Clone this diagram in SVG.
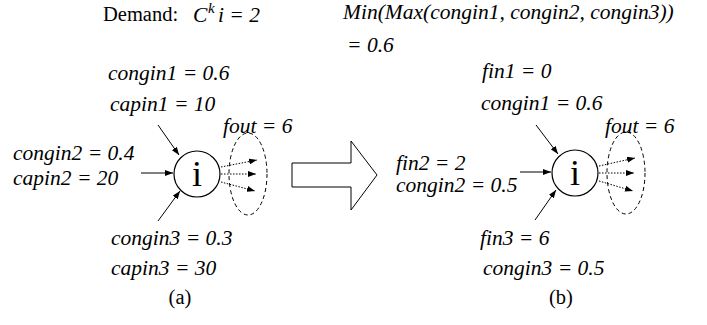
<svg xmlns="http://www.w3.org/2000/svg" width="707" height="325" viewBox="0 0 707 325" font-family="'Liberation Serif', 'Times New Roman', serif">
<style>
text{font-family:'Liberation Serif','Times New Roman',serif;fill:#000}
.it{font-style:italic;font-size:21.5px}
.up{font-size:20.5px}
.nd{fill:#fff;stroke:#000;stroke-width:1.2}
.ni{font-size:36px;text-anchor:middle}
.ln{stroke:#000;stroke-width:1;fill:none}
.dot{stroke:#000;stroke-width:1;fill:none;stroke-dasharray:1.5,1.5}
.dash{stroke:#000;stroke-width:1;fill:none;stroke-dasharray:4,3}
</style>
<defs>
<marker id="ah" markerUnits="userSpaceOnUse" markerWidth="9" markerHeight="6" refX="8" refY="3" orient="auto">
<path d="M0,0 L8,3 L0,6 z" fill="#000"/>
</marker>
</defs>
<rect width="707" height="325" fill="#fff"/>

<g id="labels-top">
<text class="up" x="103" y="21">Demand:</text>
<text class="it" x="193" y="22">C</text>
<text class="it" x="208" y="13" style="font-size:15px">k</text>
<text class="it" x="218" y="22">i = 2</text>
<text class="it" x="343" y="19">Min(Max(congin1, congin2, congin3))</text>
<text class="it" x="347" y="52">= 0.6</text>
</g>

<g id="node-a">
<circle class="nd" cx="197" cy="174" r="23"/>
<text class="ni" x="197" y="186">i</text>
</g>
<g id="fanout-a">
<ellipse class="dash" cx="248" cy="174" rx="19" ry="41"/>
</g>

<g id="node-b">
<circle class="nd" cx="575" cy="173" r="23"/>
<text class="ni" x="575" y="185">i</text>
</g>
<g id="fanout-b">
<ellipse class="dash" cx="626" cy="173" rx="19" ry="41"/>
</g>

<g id="connectors">
<line class="ln" x1="158" y1="125" x2="179" y2="155" marker-end="url(#ah)"/>
<line class="ln" x1="141" y1="173" x2="173" y2="173" marker-end="url(#ah)"/>
<line class="ln" x1="158" y1="221" x2="180" y2="191" marker-end="url(#ah)"/>
<line class="dot" x1="221" y1="167" x2="257" y2="160" marker-end="url(#ah)"/>
<line class="dot" x1="221" y1="174" x2="256" y2="174" marker-end="url(#ah)"/>
<line class="dot" x1="221" y1="182" x2="255" y2="191" marker-end="url(#ah)"/>

<line class="ln" x1="536" y1="125" x2="558" y2="154" marker-end="url(#ah)"/>
<line class="ln" x1="520" y1="172" x2="551" y2="172" marker-end="url(#ah)"/>
<line class="ln" x1="535" y1="220" x2="556" y2="190" marker-end="url(#ah)"/>
<line class="dot" x1="599" y1="166" x2="635" y2="158" marker-end="url(#ah)"/>
<line class="dot" x1="599" y1="173" x2="634" y2="173" marker-end="url(#ah)"/>
<line class="dot" x1="599" y1="181" x2="633" y2="191" marker-end="url(#ah)"/>
</g>

<g id="block-arrow">
<polygon points="292,163 351,163 351,141 377,175 351,210 351,187 292,187" fill="#fff" stroke="#000" stroke-width="1"/>
</g>

<g id="labels-a">
<text class="it" x="108" y="80">congin1 = 0.6</text>
<text class="it" x="110" y="111">capin1 = 10</text>
<text class="it" x="223" y="133">fout = 6</text>
<text class="it" x="13" y="160">congin2 = 0.4</text>
<text class="it" x="13" y="185">capin2 = 20</text>
<text class="it" x="111" y="245">congin3 = 0.3</text>
<text class="it" x="111" y="275">capin3 = 30</text>
<text class="up" x="180" y="304" text-anchor="middle">(a)</text>
</g>

<g id="labels-b">
<text class="it" x="482" y="78">fin1 = 0</text>
<text class="it" x="481" y="110">congin1 = 0.6</text>
<text class="it" x="605" y="133">fout = 6</text>
<text class="it" x="396" y="170">fin2 = 2</text>
<text class="it" x="396" y="192">congin2 = 0.5</text>
<text class="it" x="480" y="245">fin3 = 6</text>
<text class="it" x="483" y="275">congin3 = 0.5</text>
<text class="up" x="561" y="304" text-anchor="middle">(b)</text>
</g>
</svg>
